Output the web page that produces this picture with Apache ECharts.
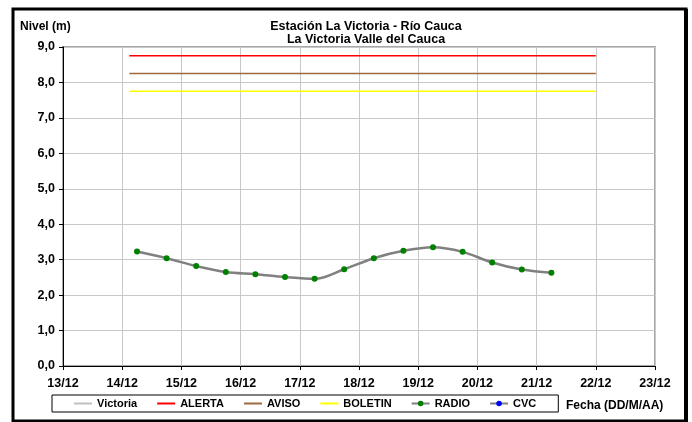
<!DOCTYPE html>
<html>
<head>
<meta charset="utf-8">
<script src="https://cdn.jsdelivr.net/npm/echarts@6/dist/echarts.min.js"></script>
<style>
html,body{margin:0;padding:0;background:#fff;}
#main{width:692px;height:422px;}
</style>
</head>
<body>
<div id="main"></div>
<script>
// fechas en dias de diciembre (14.25 = 14/12 06:00)
const radioDias = [14.25, 14.75, 15.25, 15.75, 16.25, 16.75, 17.25, 17.75, 18.25, 18.75, 19.25, 19.75, 20.25, 20.75, 21.25];
const radioNivel = [3.23, 3.04, 2.82, 2.65, 2.59, 2.51, 2.46, 2.73, 3.04, 3.25, 3.35, 3.22, 2.92, 2.72, 2.63];
const umbralDias = [14.12, 22];
const alerta = 8.75;
const aviso = 8.25;
const boletin = 7.75;
const leyenda = ['Victoria', 'ALERTA', 'AVISO', 'BOLETIN', 'RADIO', 'CVC'];
const sinMarca = ['Victoria', 'ALERTA', 'AVISO', 'BOLETIN'];

const fuente = 'Liberation Sans, Arial, sans-serif';
const myEcharts = echarts.init(document.getElementById('main'));

const option = {
    animation: false,
    title: {
        text: 'Estación La Victoria - Río Cauca\nLa Victoria Valle del Cauca',
        left: 361,
        top: 15,
        textAlign: 'center',
        textStyle: {fontFamily: fuente, fontSize: 12.5, fontWeight: 'bold', color: '#000', lineHeight: 13}
    },
    grid: {
        left: 63, right: 37, top: 47, bottom: 56,
        show: true, borderColor: '#a6a6a6', borderWidth: 2
    },
    legend: {
        // las series sin marcador solo muestran la linea
        data: leyenda.map(n => sinMarca.includes(n) ? {name: n, itemStyle: {opacity: 0}} : n),
        left: 52, top: 395,
        padding: [3, 22, 3, 21],
        itemGap: 19,
        itemWidth: 18,
        itemHeight: 7,
        borderColor: '#000',
        borderWidth: 1,
        textStyle: {fontFamily: fuente, fontSize: 11, fontWeight: 'bold', color: '#000'}
    },
    xAxis: {
        type: 'value',
        min: 13, max: 23, interval: 1,
        axisLine: {lineStyle: {color: '#000', width: 1}},
        axisTick: {show: true, length: 4, lineStyle: {color: '#000'}},
        splitLine: {lineStyle: {color: '#c8c8c8', width: 1}},
        axisLabel: {
            fontFamily: fuente, fontSize: 12.5, fontWeight: 'bold', color: '#000', margin: 11,
            formatter: v => v + '/12'
        }
    },
    yAxis: {
        type: 'value',
        min: 0, max: 9, interval: 1,
        axisLine: {show: true, lineStyle: {color: '#000', width: 1}},
        axisTick: {show: true, length: 4, lineStyle: {color: '#000'}},
        splitLine: {lineStyle: {color: '#c8c8c8', width: 1}},
        axisLabel: {
            fontFamily: fuente, fontSize: 12.5, fontWeight: 'bold', color: '#000', margin: 8,
            formatter: v => v.toFixed(1).replace('.', ',')
        }
    },
    graphic: [
        {type: 'text', left: 20, top: 21, style: {text: 'Nivel (m)', font: 'bold 12px ' + fuente, fill: '#000'}},
        {type: 'text', left: 566, top: 400, style: {text: 'Fecha (DD/M/AA)', font: 'bold 12px ' + fuente, fill: '#000'}},
        {type: 'rect', shape: {x: 13, y: 9, width: 673, height: 412}, style: {fill: 'none', stroke: '#000', lineWidth: 3}},
        {type: 'rect', shape: {x: 684, y: 9, width: 4, height: 414}, style: {fill: '#000'}}
    ],
    series: [
        {
            name: 'Victoria', type: 'line', symbol: 'none',
            lineStyle: {color: '#c0c0c0', width: 1.5}, itemStyle: {color: '#c0c0c0'},
            data: []
        },
        {
            name: 'ALERTA', type: 'line', symbol: 'none',
            lineStyle: {color: '#ff0000', width: 1.5}, itemStyle: {color: '#ff0000'},
            data: umbralDias.map(d => [d, alerta])
        },
        {
            name: 'AVISO', type: 'line', symbol: 'none',
            lineStyle: {color: '#a0693c', width: 1.5}, itemStyle: {color: '#a0693c'},
            data: umbralDias.map(d => [d, aviso])
        },
        {
            name: 'BOLETIN', type: 'line', symbol: 'none',
            lineStyle: {color: '#ffff00', width: 1.5}, itemStyle: {color: '#ffff00'},
            data: umbralDias.map(d => [d, boletin])
        },
        {
            name: 'RADIO', type: 'line', smooth: 0.35,
            symbol: 'circle', symbolSize: 6,
            lineStyle: {color: '#808080', width: 2.5},
            itemStyle: {color: '#008000'},
            data: radioDias.map((d, i) => [d, radioNivel[i]])
        },
        {
            name: 'CVC', type: 'line', symbol: 'circle', symbolSize: 5,
            lineStyle: {color: '#808080', width: 2.5}, itemStyle: {color: '#0000ff'},
            data: []
        }
    ]
};

myEcharts.setOption(option);
</script>
</body>
</html>
